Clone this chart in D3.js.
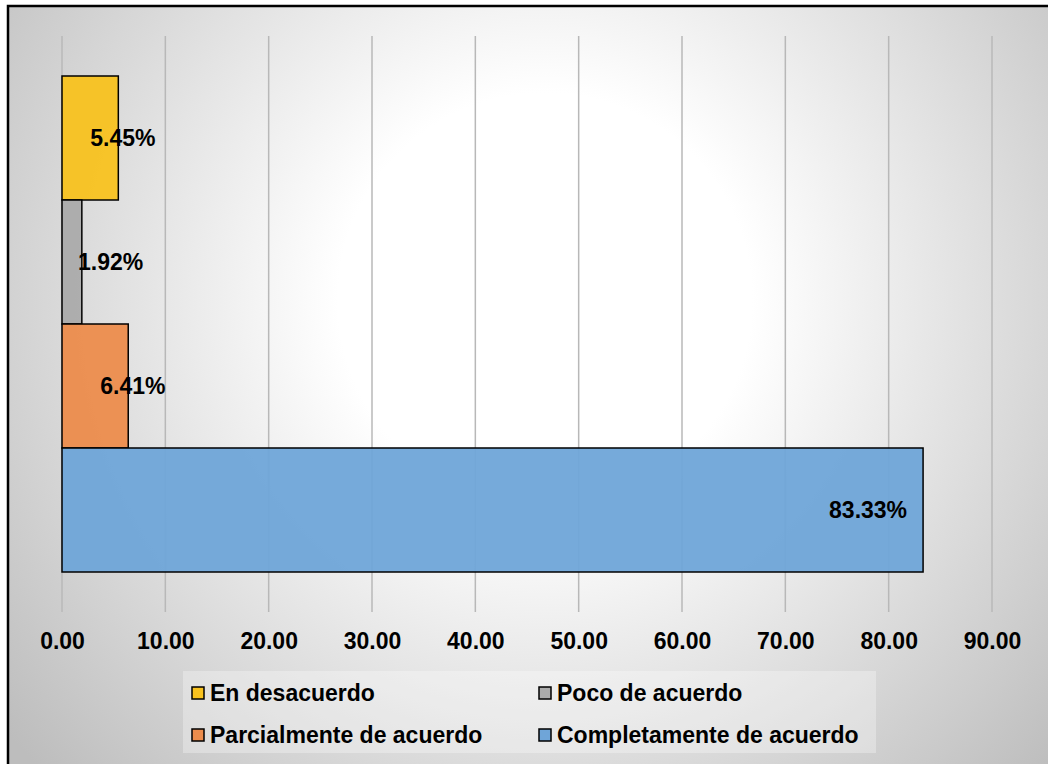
<!DOCTYPE html>
<html>
<head>
<meta charset="utf-8">
<script src="https://cdn.jsdelivr.net/npm/d3@7"></script>
<style>
  body { margin: 0; background: #fff; }
  svg text { font-family: "Liberation Sans", Arial, sans-serif; font-weight: bold; fill: #000; }
</style>
</head>
<body>
<div id="chart"></div>
<script>
// series (top to bottom) and their values in percent
var series = ["En desacuerdo", "Poco de acuerdo", "Parcialmente de acuerdo", "Completamente de acuerdo"];
var values = [5.45, 1.92, 6.41, 83.33];
var colors = ["#f8c21f", "#ababab", "#ec8c4c", "#6fa5d8"];
var xTicks = [0, 10, 20, 30, 40, 50, 60, 70, 80, 90];

var width = 1048, height = 764;
var margin = { top: 36, right: 56, bottom: 152, left: 62 };

var svg = d3.select("#chart")
  .append("svg")
  .attr("width", width)
  .attr("height", height);

// radial background like the excel chart area
var grad = svg.append("defs").append("radialGradient")
  .attr("id", "bg")
  .attr("gradientUnits", "userSpaceOnUse")
  .attr("cx", 545).attr("cy", 300).attr("r", 690);
grad.append("stop").attr("offset", "0").attr("stop-color", "#ffffff");
grad.append("stop").attr("offset", "0.3").attr("stop-color", "#ffffff");
grad.append("stop").attr("offset", "1").attr("stop-color", "#bdbdbd");

svg.append("rect")
  .attr("x", 8).attr("y", 6)
  .attr("width", width + 20).attr("height", height + 20)
  .attr("fill", "url(#bg)")
  .attr("stroke", "#000")
  .attr("stroke-width", 2.5);

var x = d3.scaleLinear()
  .domain([0, 90])
  .range([margin.left, width - margin.right]);

var y = d3.scaleBand()
  .domain(series)
  .range([margin.top, height - margin.bottom])
  .paddingInner(0)
  .paddingOuter(0.3226);

// vertical gridlines
svg.append("g")
  .selectAll("line")
  .data(xTicks)
  .enter().append("line")
  .attr("x1", function(d) { return x(d); })
  .attr("x2", function(d) { return x(d); })
  .attr("y1", margin.top)
  .attr("y2", height - margin.bottom)
  .attr("stroke", "#b8b8b8")
  .attr("stroke-width", 1.5);

// bars
svg.append("g")
  .selectAll("rect")
  .data(series)
  .enter().append("rect")
  .attr("x", x(0))
  .attr("y", function(d) { return y(d); })
  .attr("width", function(d, i) { return x(values[i]) - x(0); })
  .attr("height", y.bandwidth())
  .attr("fill", function(d, i) { return colors[i]; })
  .attr("fill-opacity", 0.95)
  .attr("stroke", "#000")
  .attr("stroke-width", 1.5);

// data labels
svg.append("g")
  .selectAll("text")
  .data(series)
  .enter().append("text")
  .attr("x", function(d, i) {
    var v = values[i];
    if (v >= 10) return x(v) - 16;
    return Math.max(x(v) - 28, x(0) + 16);
  })
  .attr("y", function(d) { return y(d) + y.bandwidth() / 2; })
  .attr("dy", "0.36em")
  .style("text-anchor", function(d, i) { return values[i] >= 10 ? "end" : "start"; })
  .style("font-size", "23px")
  .text(function(d, i) { return d3.format(".2f")(values[i]) + "%"; });

// x axis labels
var axis = svg.append("g")
  .attr("transform", "translate(0," + (height - margin.bottom) + ")")
  .call(d3.axisBottom(x).tickValues(xTicks).tickFormat(d3.format(".2f")).tickSize(0));
axis.select(".domain").remove();
axis.selectAll("text")
  .attr("y", 37)
  .attr("dy", null)
  .style("font-size", "23px")
  .style("font-family", "'Liberation Sans', Arial, sans-serif")
  .style("font-weight", "bold")
  .attr("fill", "#000");

// legend
var legend = svg.append("g");
legend.append("rect")
  .attr("x", 183).attr("y", 671)
  .attr("width", 693).attr("height", 82)
  .attr("fill", "#ffffff")
  .attr("fill-opacity", 0.3);

var colX = [192, 539];
var rowY = [701, 743];
var items = legend.selectAll(".item")
  .data(series)
  .enter().append("g")
  .attr("class", "item")
  .attr("transform", function(d, i) {
    return "translate(" + colX[i % 2] + "," + rowY[Math.floor(i / 2)] + ")";
  });
items.append("rect")
  .attr("x", 0).attr("y", -14)
  .attr("width", 12).attr("height", 12)
  .attr("fill", function(d, i) { return colors[i]; })
  .attr("stroke", "#000")
  .attr("stroke-width", 1.5);
items.append("text")
  .attr("x", 18)
  .attr("y", 0)
  .style("font-size", "23px")
  .text(function(d) { return d; });
</script>
</body>
</html>
